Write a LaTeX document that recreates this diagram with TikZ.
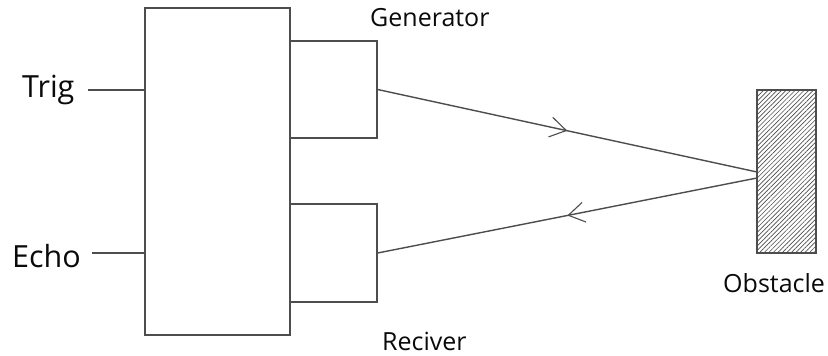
\documentclass[tikz,border=0pt]{standalone}
\usepackage{fontspec}
\setmainfont{Open Sans}
\usetikzlibrary{arrows.meta,decorations.markings,patterns.meta}
\definecolor{linegray}{HTML}{4D4D4D}
\definecolor{textblack}{HTML}{0A0A0A}
\tikzset{
  blockbox/.style={draw=linegray, line width=1.3pt, rectangle, inner sep=0pt},
  wire/.style={draw=linegray, line width=1.1pt},
  ray/.style={draw=linegray, line width=1.4pt,
    postaction={decorate},
    decoration={markings, mark=at position 0.5 with {\arrow{Straight Barb[length=16pt,width=20pt,line width=1.1pt]}}}},
  bigtxt/.style={anchor=base west, inner sep=0pt, text=textblack, font=\fontsize{30.5}{31}\selectfont},
  midtxt/.style={anchor=base west, inner sep=0pt, text=textblack, font=\fontsize{25}{25}\selectfont},
}
\begin{document}
\begin{tikzpicture}[x=1pt,y=-1pt]
\useasboundingbox (0,0) rectangle (828,356);
\fill[white] (0,0) rectangle (828,356);
% blocks
\node[blockbox, minimum width=145pt, minimum height=327pt] (main) at (217.5,171.5) {};
\node[blockbox, minimum width=87pt, minimum height=97pt] (gen) at (333.5,89.5) {};
\node[blockbox, minimum width=87pt, minimum height=98pt] (rec) at (333.5,253) {};
\node[blockbox, minimum width=59pt, minimum height=163pt,
  pattern={Lines[angle=45,distance=3.2pt,line width=0.65pt]}, pattern color=linegray] (obs) at (786.5,171.5) {};
% labels
\node[bigtxt] (trig) at (22,97) {Trig};
\node[bigtxt] (echo) at (12,267) {Echo};
\node[midtxt] (gentxt) at (370,27) {Generator};
\node[midtxt] (rectxt) at (382,350) {Reciver};
\node[midtxt] (obstxt) at (723,292) {Obstacle};
% wires
\coordinate (trigend) at (88,90);
\coordinate (echoend) at (92,253);
\draw[wire] (trigend) -- (trigend -| main.west);
\draw[wire] (echoend) -- (echoend -| main.west);
% rays
\coordinate (hitin) at (757,172);
\coordinate (hitout) at (757,178);
\draw[ray] (gen.east) -- (hitin);
\draw[ray] (hitout) -- (rec.east);
\end{tikzpicture}
\end{document}
